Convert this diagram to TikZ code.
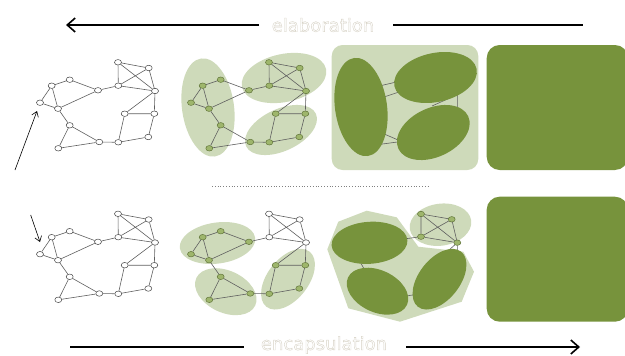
\documentclass[tikz,border=0pt]{standalone}
\usepackage{fontspec}
\newfontfamily\labelfont{DejaVu Sans}
\usetikzlibrary{shapes.geometric,arrows.meta}
\definecolor{lightg}{RGB}{206,218,186}
\definecolor{darkg}{RGB}{119,147,60}
\definecolor{nfill}{RGB}{158,182,108}
\definecolor{ndraw}{RGB}{96,116,56}
\definecolor{ledge}{RGB}{95,95,95}
\newcommand\outlinetext[1]{\special{pdf:literal direct 2 Tr 0.4 w 0.84 0.82 0.77 RG}#1\special{pdf:literal direct 0 Tr}}
\tikzset{
  wnode/.style={ellipse,draw=black!75,fill=white,line width=0.5pt,minimum width=7pt,minimum height=5.5pt,inner sep=0pt},
  gnode/.style={ellipse,draw=ndraw,fill=nfill,line width=0.5pt,minimum width=7pt,minimum height=5.5pt,inner sep=0pt},
  edge/.style={draw=ledge,line width=0.6pt},
  blob/.style={ellipse,fill=lightg,inner sep=0pt},
  dblob/.style={ellipse,fill=darkg,inner sep=0pt},
  bigarrow/.style={line width=1.6pt,black},
  thinarrow/.style={line width=0.6pt,black,-{Straight Barb[length=5pt,width=7pt]}},
  lbl/.style={font=\labelfont\fontsize{18}{20}\selectfont,text=white,inner sep=0pt}
}
\newcommand\mkgraph[5]{%
  \begin{scope}[shift={(#2,#3)}]
    \node[#5] (#1A) at (40,102.7) {};
    \node[#5] (#1B) at (51.7,85.7) {};
    \node[#5] (#1C) at (69.7,79.7) {};
    \node[#5] (#1D) at (58,108.7) {};
    \node[#5] (#1E) at (98,90.3) {};
    \node[#4] (#1F) at (118.3,85.7) {};
    \node[#4] (#1G) at (118,62.3) {};
    \node[#4] (#1H) at (148.7,68) {};
    \node[#4] (#1I) at (155,91) {};
    \node[#5] (#1J) at (124.7,113.7) {};
    \node[#5] (#1K) at (154.3,113.7) {};
    \node[#5] (#1L) at (69.7,125.3) {};
    \node[#5] (#1M) at (58.3,148.3) {};
    \node[#5] (#1N) at (99.3,142) {};
    \node[#5] (#1O) at (118.3,142.3) {};
    \node[#5] (#1P) at (148.3,137) {};
  \end{scope}
  \draw[edge] (#1A)--(#1B) (#1A)--(#1D) (#1B)--(#1C) (#1B)--(#1D) (#1C)--(#1E)
    (#1D)--(#1E) (#1E)--(#1F) (#1F)--(#1G) (#1F)--(#1H) (#1F)--(#1I) (#1G)--(#1H)
    (#1G)--(#1I) (#1H)--(#1I) (#1I)--(#1J) (#1I)--(#1K) (#1J)--(#1K) (#1J)--(#1O)
    (#1K)--(#1P) (#1O)--(#1P) (#1N)--(#1O) (#1L)--(#1N) (#1L)--(#1M) (#1M)--(#1N)
    (#1D)--(#1L);
}
\begin{document}
\begin{tikzpicture}[x=1pt,y=-1pt]
\useasboundingbox (0,0) rectangle (625,356);
\clip (0,0) rectangle (625,356);

% ---- top arrow: elaboration
\node[lbl] (elab) at (323,25) {\outlinetext{elaboration}};
\coordinate (ta1) at (259,25);
\coordinate (ta2) at (66,25);
\coordinate (tb1) at (393,25);
\coordinate (tb2) at (583,25);
\draw[bigarrow,-{Straight Barb[length=8pt,width=14pt,line width=1.6pt]}] (ta1) -- (ta2);
\draw[bigarrow] (tb1) -- (tb2);

% ---- bottom arrow: encapsulation
\node[lbl] (enc) at (324,345) {\outlinetext{encapsulation}};
\coordinate (ba1) at (70,347);
\coordinate (ba2) at (244,347);
\coordinate (bb1) at (406,347);
\coordinate (bb2) at (580,347);
\draw[bigarrow] (ba1) -- (ba2);
\draw[bigarrow,-{Straight Barb[length=8pt,width=14pt,line width=1.6pt]}] (bb1) -- (bb2);

% ---- dotted separator
\coordinate (sep1) at (212,186.5);
\coordinate (sep2) at (430,186.5);
\draw[gray,line width=0.8pt,dotted] (sep1) -- (sep2);

% ================= TOP ROW =================
% column 1
\mkgraph{a}{0}{0}{wnode}{wnode}
\coordinate (arrA) at (15,170);
\coordinate (arrAt) at (37,111);
\draw[thinarrow] (arrA) -- (arrAt);

% column 2
\node[blob,minimum width=52pt,minimum height=99pt,rotate=8] (b2l) at (208,107.5) {};
\node[blob,minimum width=86pt,minimum height=48pt,rotate=12] (b2u) at (284,78) {};
\node[blob,minimum width=77pt,minimum height=42pt,rotate=25] (b2d) at (281,130) {};
\mkgraph{b}{151}{0}{gnode}{gnode}

% column 3
\node[fill=lightg,rounded corners=11pt,minimum width=146.6pt,minimum height=125pt,inner sep=0pt] (box3) at (405,107.5) {};
\coordinate (c1a) at (375,87);  \coordinate (c1b) at (405,80);
\coordinate (c2a) at (375,100); \coordinate (c2b) at (405,90);
\coordinate (c3a) at (375,130); \coordinate (c3b) at (405,143);
\coordinate (c4a) at (375,145); \coordinate (c4b) at (405,141);
\coordinate (c5a) at (457.3,92); \coordinate (c5b) at (457.3,112);
\coordinate (c6a) at (452,97);   \coordinate (c6b) at (432,106);
\draw[edge] (c1a)--(c1b) (c2a)--(c2b) (c3a)--(c3b) (c4a)--(c4b) (c5a)--(c5b) (c6a)--(c6b);
\node[dblob,minimum width=52pt,minimum height=99pt,rotate=8] (d3l) at (361,107) {};
\node[dblob,minimum width=84pt,minimum height=49pt,rotate=12] (d3u) at (435.5,77.5) {};
\node[dblob,minimum width=77pt,minimum height=49pt,rotate=25] (d3d) at (433.3,132.5) {};

% column 4
\node[fill=darkg,rounded corners=13pt,minimum width=141.3pt,minimum height=125pt,inner sep=0pt] (box4) at (557.35,107.5) {};

% ================= BOTTOM ROW =================
% column 1
\mkgraph{e}{0}{151.5}{wnode}{wnode}
\coordinate (arrB) at (30.7,215);
\coordinate (arrBt) at (40,242);
\draw[thinarrow] (arrB) -- (arrBt);

% column 2
\node[blob,minimum width=76pt,minimum height=41pt,rotate=8] (f2u) at (217.5,243) {};
\node[blob,minimum width=65pt,minimum height=42pt,rotate=-25] (f2d) at (225.8,291.7) {};
\node[blob,minimum width=70pt,minimum height=41pt,rotate=52] (f2r) at (288,279.2) {};
\mkgraph{f}{151}{151.5}{wnode}{gnode}

% column 3
\fill[lightg] (366.7,210.7) -- (396.7,217.3) -- (418.3,246.7) -- (463.3,251.7)
   -- (474,271.7) -- (461.7,301.7) -- (400,321.7) -- (348.3,308.3)
   -- (327.3,249.3) -- (338.3,221.7) -- cycle;
\node[blob,minimum width=62pt,minimum height=42pt,rotate=8] (g3s) at (440.5,224.7) {};
\node[gnode] (g1) at (421,214) {};
\node[gnode] (g2) at (451.7,219.3) {};
\node[gnode] (g3) at (421,236.7) {};
\node[gnode] (g4) at (457.3,242.7) {};
\coordinate (h1) at (400,239.5);
\coordinate (h2) at (457.3,262);
\coordinate (h3) at (440,258);
\coordinate (h4a) at (358,258); \coordinate (h4b) at (368,276);
\coordinate (h5a) at (400,297); \coordinate (h5b) at (425,293);
\draw[edge] (g1)--(g2) (g1)--(g3) (g1)--(g4) (g2)--(g3) (g2)--(g4) (g3)--(g4)
  (g3)--(h1) (g4)--(h2) (g4)--(h3) (h4a)--(h4b) (h5a)--(h5b);
\node[dblob,minimum width=76pt,minimum height=42pt,rotate=4] (k3u) at (369.5,242.8) {};
\node[dblob,minimum width=65pt,minimum height=42pt,rotate=-25] (k3d) at (377.5,291.2) {};
\node[dblob,minimum width=70pt,minimum height=41pt,rotate=52] (k3r) at (439.5,279.2) {};

% column 4
\node[fill=darkg,rounded corners=13pt,minimum width=141.3pt,minimum height=125pt,inner sep=0pt] (box4b) at (557.35,259.2) {};
\end{tikzpicture}
\end{document}
